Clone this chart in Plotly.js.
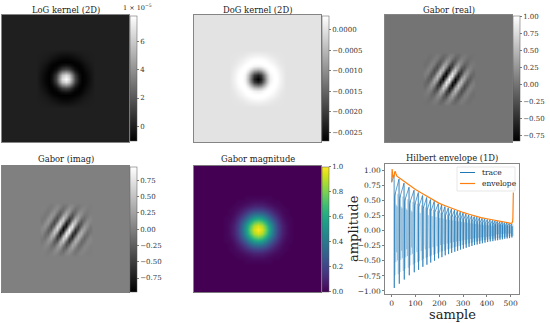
<!DOCTYPE html>
<html>
<head>
<meta charset="utf-8">
<script src="https://cdn.plot.ly/plotly-3.0.1.min.js"></script>
<style>html,body{margin:0;padding:0;background:#fff}#c{width:550px;height:323px}</style>
</head>
<body>
<div id="c"></div>
<script>
// 2D kernels: centre-outward quadrants (blobs) or half-planes (Gabor).
const titles = ['LoG kernel (2D)','DoG kernel (2D)','Gabor (real)','Gabor (imag)','Gabor magnitude','Hilbert envelope (1D)'];
const logQuad = [
[7.7,6.64,4.08,1.38,-.39,-1.02,-.91,-.56,-.27],
[6.64,5.69,3.40,1.02,-.53,-1.03,-.88,-.53,-.25],
[4.08,3.40,1.80,.16,-.82,-1.03,-.80,-.47,-.22],
[1.38,1.02,.16,-.64,-1.02,-.95,-.66,-.36,-.16],
[-.39,-.53,-.82,-1.02,-1.00,-.77,-.49,-.25,-.11],
[-1.02,-1.03,-1.03,-.95,-.77,-.53,-.31,-.15,-.07],
[-.91,-.88,-.80,-.66,-.49,-.31,-.17,-.09,-.03],
[-.56,-.53,-.47,-.36,-.25,-.15,-.09,-.04,-.02],
[-.27,-.25,-.22,-.16,-.11,-.07,-.03,-.02,0]];
const dogQuad = [
[-27,-23.3,-14.3,-4.8,1.4,3.6,3.2,2.0,.9],
[-23.3,-20,-11.9,-3.6,1.9,3.6,3.1,1.9,.9],
[-14.3,-11.9,-6.3,-.6,2.9,3.6,2.8,1.6,.8],
[-4.8,-3.6,-.6,2.2,3.6,3.3,2.3,1.3,.6],
[1.4,1.9,2.9,3.6,3.5,2.7,1.7,.9,.4],
[3.6,3.6,3.6,3.3,2.7,1.9,1.1,.5,.2],
[3.2,3.1,2.8,2.3,1.7,1.1,.6,.3,.1],
[2.0,1.9,1.6,1.3,.9,.5,.3,.1,.1],
[.9,.9,.8,.6,.4,.2,.1,.1,0]];
const magQuad = [
[1,.94,.77,.55,.35,.19,.09,.04,.01],
[.94,.88,.72,.52,.33,.18,.09,.04,.01],
[.77,.72,.59,.42,.27,.15,.07,.03,.01],
[.55,.52,.42,.30,.19,.11,.05,.02,.01],
[.35,.33,.27,.19,.12,.07,.03,.01,0],
[.19,.18,.15,.11,.07,.04,.02,.01,0],
[.09,.09,.07,.05,.03,.02,.01,0,0],
[.04,.04,.03,.02,.01,.01,0,0,0],
[.01,.01,.01,.01,0,0,0,0,0]];
const gaborRealRows = [
[0,-.16,-.10,.32,.39,-.40,-.80,.18,1,.18,-.80,-.40,.39,.32,-.10,-.16,0],
[-.07,-.12,.12,.36,-.05,-.68,-.24,.82,.60,-.60,-.73,.21,.52,.03,-.24,-.07,.07],
[-.08,0,.23,.13,-.40,-.44,.41,.76,-.17,-.83,-.14,.58,.26,-.24,-.19,.06,.08],
[-.03,.09,.15,-.13,-.37,.05,.62,.20,-.63,-.43,.40,.45,-.12,-.28,-.02,.12,.03],
[.02,.09,0,-.22,-.12,.32,.34,-.30,-.51,.11,.48,.07,-.28,-.12,.10,.07,-.02],
[.04,.03,-.08,-.12,.10,.27,-.03,-.38,-.11,.34,.21,-.18,-.19,.05,.10,0,-.04],
[.02,-.01,-.07,0,.14,.07,-.19,-.18,.15,.23,-.05,-.19,-.03,.09,.04,-.03,-.02],
[0,-.03,-.02,.05,.07,-.06,-.13,.02,.16,.04,-.12,-.07,.06,.05,-.01,-.03,0],
[-.01,-.01,.01,.04,0,-.07,-.03,.08,.06,-.05,-.07,.01,.05,.01,-.02,-.01,.01]];
const gaborImagRows = [
[.09,.03,-.24,-.22,.39,.60,-.33,-.94,0,.94,.33,-.60,-.39,.22,.24,-.03,-.09],
[.06,-.10,-.22,.11,.53,.07,-.80,-.44,.74,.72,-.40,-.66,.06,.38,.07,-.14,-.06],
[-.01,-.14,-.05,.31,.27,-.43,-.61,.32,.84,-.01,-.73,-.23,.40,.24,-.13,-.13,.02],
[-.06,-.08,.12,.25,-.11,-.51,-.06,.66,.34,-.54,-.48,.24,.37,-.03,-.19,-.03,.06],
[-.05,.02,.14,.04,-.28,-.22,.34,.44,-.21,-.52,0,.38,.11,-.18,-.10,.05,.05],
[-.01,.05,.06,-.10,-.19,.08,.34,.03,-.37,-.17,.27,.21,-.11,-.15,.01,.06,.01],
[.01,.04,-.01,-.10,-.03,.17,.13,-.18,-.22,.10,.23,0,-.14,-.04,.06,.03,-.01],
[.01,.01,-.04,-.04,.06,.11,-.04,-.16,-.01,.15,.06,-.09,-.07,.03,.04,0,-.01],
[.01,-.01,-.02,.01,.05,.01,-.07,-.05,.06,.07,-.03,-.07,0,.04,.01,-.01,-.01]];

// 1D panel
const toothX = [10,31,52,73,94,112,130,147,163,179,196,210,224,238,251,264,276,288,300,312,324,336,347,358,369,380,391,402,413,424,434,444,454,464,474,484,494,504];
const toothAmp = [.95,.88,.81,.74,.69,.65,.60,.565,.53,.50,.46,.44,.41,.39,.37,.35,.335,.315,.30,.285,.27,.255,.24,.23,.22,.21,.20,.19,.18,.175,.165,.16,.15,.145,.135,.13,.125,.115];
const ringPos = [.12,.2,.28,.36,.44,.52,.6,.68,.76,.84,.92];
const ringShare = [.88,.78,.66,.55,.45,.38,.42,.52,.64,.76,.88];
const envX = [0,1,2,4,7,10,13,15,18,22,30,40,50,75,100,125,150,175,200,225,250,275,300,325,350,375,400,425,450,475,500,505,508,509,510,511];
const envY = [.80,.92,1.02,.93,.87,.90,.97,.98,.94,.90,.88,.85,.82,.75,.68,.62,.56,.505,.45,.41,.37,.335,.30,.27,.24,.215,.195,.175,.155,.14,.12,.125,.15,.20,.35,.63];
const xTicks = [0,100,200,300,400,500];
const yTicks = [-1,-.75,-.5,-.25,0,.25,.5,.75,1];
const yLabels = ['−1.00','−0.75','−0.50','−0.25','0.00','0.25','0.50','0.75','1.00'];

const W=550,H=323,FONT='DejaVu Serif',INK='#333';
const GRAY=[[0,'#000'],[1,'#fff']];

function mirrorQuad(q){
  const rows=q.map(r=>r.slice(1).reverse().concat(r));
  return rows.slice(1).reverse().concat(rows);
}
function mirrorReal(r){return r.slice(1).map(a=>a.slice().reverse()).reverse().concat(r);}
function mirrorImag(r){return r.slice(1).map(a=>a.slice().reverse().map(v=>-v)).reverse().concat(r);}
function pad(z){ // flat background ring out to the panel edge
  const n=z[0].length, blank=Array(n+4).fill(0);
  const rows=z.map(r=>[0,0].concat(r,[0,0]));
  return [blank,blank].concat(rows,[blank,blank]);
}
function coords(n,step){ // n samples centred on 0, then the flat ring
  const c=[];for(let i=0;i<n;i++)c.push((i-(n-1)/2)*step);
  const e=c[n-1];
  return [-70,-e-step].concat(c,[e+step,70]);
}
const panels=[
 {z:mirrorQuad(logQuad),step:3.3,cs:GRAY,zmin:-1.07,zmax:7.82,box:[2,15],tv:[0,2,4,6],tt:['0','2','4','6']},
 {z:mirrorQuad(dogQuad),step:3.2,cs:GRAY,zmin:-27.2,zmax:3.35,box:[194,15],tv:[0,-5,-10,-15,-20,-25],tt:['0.0000','−0.0005','−0.0010','−0.0015','−0.0020','−0.0025']},
 {z:mirrorReal(gaborRealRows),step:3,cs:GRAY,zmin:-.83,zmax:1,box:[385,15],tv:[-.75,-.5,-.25,0,.25,.5,.75,1],tt:['−0.75','−0.50','−0.25','0.00','0.25','0.50','0.75','1.00']},
 {z:mirrorImag(gaborImagRows),step:3,cs:GRAY,zmin:-.96,zmax:.96,box:[2,165.5],tv:[-.75,-.5,-.25,0,.25,.5,.75],tt:['−0.75','−0.50','−0.25','0.00','0.25','0.50','0.75']},
 {z:mirrorQuad(magQuad),step:4,cs:'Viridis',zmin:0,zmax:1,box:[194,165.5],tv:[0,.2,.4,.6,.8,1],tt:['0.0','0.2','0.4','0.6','0.8','1.0']}
];
const SIZE=127;
const data=[],layout={width:W,height:H,margin:{l:0,r:0,t:0,b:0},paper_bgcolor:'#fff',plot_bgcolor:'#fff',showlegend:false,
  font:{family:FONT,color:INK},annotations:[],shapes:[]};
panels.forEach((p,i)=>{
  const id=i+1,x0=p.box[0],y0=p.box[1];
  const n=p.z.length,c=coords(n,p.step);
  data.push({type:'heatmap',x:c,y:c,z:pad(p.z),xaxis:'x'+id,yaxis:'y'+id,zsmooth:'best',colorscale:p.cs,zmin:p.zmin,zmax:p.zmax,hoverinfo:'skip',
    colorbar:{x:(x0+SIZE+1)/W,xanchor:'left',xpad:0,ypad:0,y:1-(y0+1.2)/H,yanchor:'top',len:124.5/H,lenmode:'fraction',thickness:6.5,thicknessmode:'pixels',
      outlinewidth:.5,outlinecolor:'#555',tickmode:'array',tickvals:p.tv,ticktext:p.tt,ticks:'outside',ticklen:2,tickwidth:.7,tickcolor:'#444',
      tickfont:{family:FONT,size:7,color:INK}}});
  const ax={showticklabels:false,ticks:'',showgrid:false,zeroline:false,showline:true,mirror:true,linecolor:'#666',linewidth:.8};
  layout['xaxis'+id]=Object.assign({},ax,{domain:[x0/W,(x0+SIZE)/W],range:[-63.5,63.5],anchor:'y'+id});
  layout['yaxis'+id]=Object.assign({},ax,{domain:[1-(y0+SIZE)/H,1-y0/H],range:[63.5,-63.5],anchor:'x'+id});
});

// 1D trace: each tooth is one full swing; the gap after it rings at a share of that swing
const tx=[0],ty=[.8],rx=[],ry=[];
toothX.forEach((t,k)=>{
  tx.push(t,t+1,t+2); ty.push(toothAmp[k]*.97,-toothAmp[k],toothAmp[k]*.6);
  const next=k<toothX.length-1?toothX[k+1]:511, a=toothAmp[k];
  ringPos.forEach((f,m)=>{rx.push(t+(next-t)*f);ry.push((m%2?-1:1)*a*ringShare[m]);});
});
data.push({type:'scatter',mode:'lines',name:'ringing',x:rx,y:ry,xaxis:'x6',yaxis:'y6',line:{color:'#1f77b4',width:.4},opacity:.55,hoverinfo:'skip'});
data.push({type:'scatter',mode:'lines',name:'trace',x:tx,y:ty,xaxis:'x6',yaxis:'y6',line:{color:'#1f77b4',width:.7},hoverinfo:'skip'});
data.push({type:'scatter',mode:'lines',name:'envelope',x:envX,y:envY,xaxis:'x6',yaxis:'y6',line:{color:'#ff7f0e',width:1.2},hoverinfo:'skip'});
const lineAx={showgrid:false,zeroline:false,showline:true,mirror:true,linecolor:'#666',linewidth:.8,ticks:'outside',ticklen:2,tickwidth:.7,tickcolor:'#444',tickfont:{family:FONT,size:7.5,color:INK}};
layout.xaxis6=Object.assign({},lineAx,{domain:[385/W,519.3/W],range:[-28,536],anchor:'y6',tickmode:'array',tickvals:xTicks,ticktext:xTicks.map(String)});
layout.yaxis6=Object.assign({},lineAx,{domain:[1-294/H,1-163.5/H],range:[-1.05,1.11],anchor:'x6',tickmode:'array',tickvals:yTicks,ticktext:yLabels});

// Titles and free text
function text(str,x,y,size,extra){
  layout.annotations.push(Object.assign({text:str,xref:'paper',yref:'paper',x:x/W,y:1-y/H,xanchor:'center',yanchor:'middle',showarrow:false,
    font:{family:FONT,size:size,color:'#222'}},extra||{}));
}
const titlePos=[[65.5,10],[257.5,10],[449,10],[65.5,159],[257.5,159],[452,158]];
titles.forEach((t,i)=>text(t,titlePos[i][0],titlePos[i][1],8.4));
text('1 × 10<sup>−5</sup>',137,7.5,6.5);
text('sample',452,314,13);
text('amplitude',353,229,13,{textangle:-90});

// Legend box, drawn where the picture has it
layout.shapes.push({type:'rect',xref:'paper',yref:'paper',x0:457/W,x1:515/W,y0:1-167/H,y1:1-191/H,line:{color:'#ddd',width:.7},fillcolor:'rgba(255,255,255,.8)',layer:'above'});
layout.shapes.push({type:'line',xref:'paper',yref:'paper',x0:460/W,x1:475/W,y0:1-172.5/H,y1:1-172.5/H,line:{color:'#1f77b4',width:1}});
layout.shapes.push({type:'line',xref:'paper',yref:'paper',x0:460/W,x1:475/W,y0:1-183.5/H,y1:1-183.5/H,line:{color:'#ff7f0e',width:1.2}});
text('trace',480,172.5,7.5,{xanchor:'left'});
text('envelope',480,183.5,7.5,{xanchor:'left'});

Plotly.newPlot('c',data,layout,{staticPlot:true,displayModeBar:false});
</script>
</body>
</html>
